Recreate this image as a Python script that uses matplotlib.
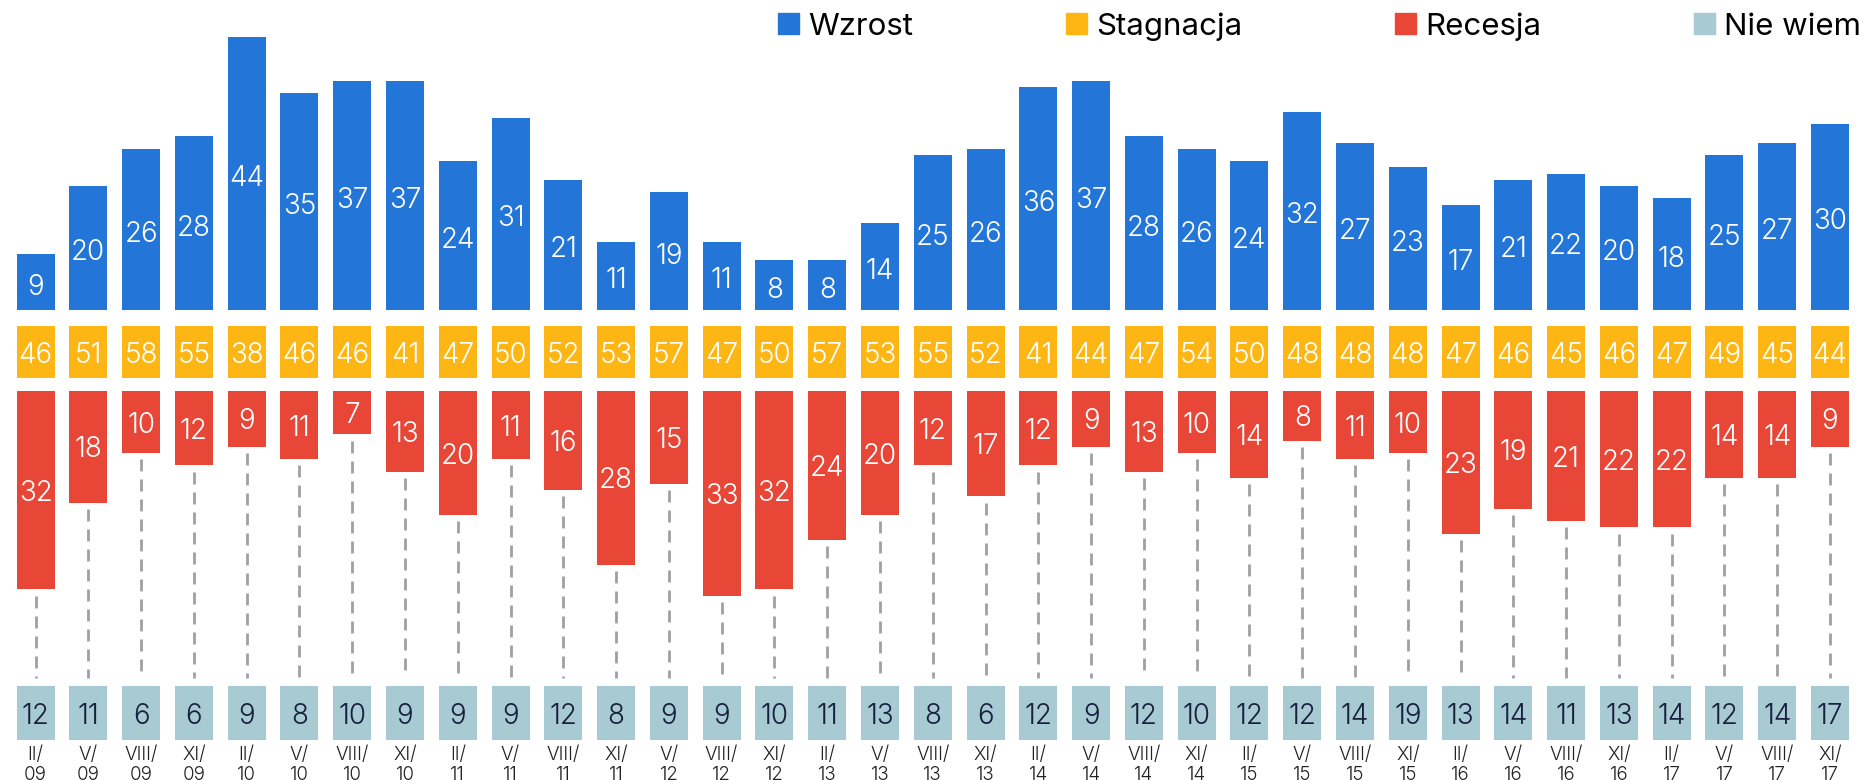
import matplotlib.pyplot as plt
from matplotlib.patches import Patch

periods = ["II/\n09", "V/\n09", "VIII/\n09", "XI/\n09",
           "II/\n10", "V/\n10", "VIII/\n10", "XI/\n10",
           "II/\n11", "V/\n11", "VIII/\n11", "XI/\n11",
           "V/\n12", "VIII/\n12", "XI/\n12",
           "II/\n13", "V/\n13", "VIII/\n13", "XI/\n13",
           "II/\n14", "V/\n14", "VIII/\n14", "XI/\n14",
           "II/\n15", "V/\n15", "VIII/\n15", "XI/\n15",
           "II/\n16", "V/\n16", "VIII/\n16", "XI/\n16",
           "II/\n17", "V/\n17", "VIII/\n17", "XI/\n17"]

wzrost = [9, 20, 26, 28, 44, 35, 37, 37, 24, 31, 21, 11, 19, 11, 8, 8, 14, 25,
          26, 36, 37, 28, 26, 24, 32, 27, 23, 17, 21, 22, 20, 18, 25, 27, 30]
stagnacja = [46, 51, 58, 55, 38, 46, 46, 41, 47, 50, 52, 53, 57, 47, 50, 57, 53, 55,
             52, 41, 44, 47, 54, 50, 48, 48, 48, 47, 46, 45, 46, 47, 49, 45, 44]
recesja = [32, 18, 10, 12, 9, 11, 7, 13, 20, 11, 16, 28, 15, 33, 32, 24, 20, 12,
           17, 12, 9, 13, 10, 14, 8, 11, 10, 23, 19, 21, 22, 22, 14, 14, 9]
nie_wiem = [12, 11, 6, 6, 9, 8, 10, 9, 9, 9, 12, 8, 9, 9, 10, 11, 13, 8,
            6, 12, 9, 12, 10, 12, 12, 14, 19, 13, 14, 11, 13, 14, 12, 14, 17]

BLUE = "#2376d8"
YELLOW = "#feb614"
RED = "#e84637"
TEAL = "#a8cad2"
NAVY = "#17203f"

plt.rcParams["font.family"] = ["Inter", "DejaVu Sans"]

# layout in value units (1 unit ~ 6.2 px)
YEL_TOP, YEL_BOT = -2.6, -11.0
RED_TOP = -13.06
DASH_END = -59.35
TEAL_TOP, TEAL_BOT = -60.65, -69.35
LABEL_Y = -70.3
W = 0.72
FS = 20
WT = 300

fig = plt.figure(figsize=(18.67, 7.8), dpi=100)
ax = fig.add_axes([0, 0, 1, 1])
ax.set_xlim(-0.673, 34.70)
ax.set_ylim(-75.8, 50.0)
ax.axis("off")

x = list(range(len(periods)))

ax.bar(x, wzrost, width=W, bottom=0, color=BLUE)
ax.bar(x, [YEL_TOP - YEL_BOT] * len(x), width=W, bottom=YEL_BOT, color=YELLOW)
ax.bar(x, [-v for v in recesja], width=W, bottom=RED_TOP, color=RED)
ax.bar(x, [TEAL_TOP - TEAL_BOT] * len(x), width=W, bottom=TEAL_BOT, color=TEAL)

for i in x:
    ax.plot([i, i], [RED_TOP - recesja[i] - 1.0, DASH_END], color="#a0a0a0",
            lw=2.0, linestyle=(0, (4.3, 2.9)), zorder=0)
    ax.text(i, wzrost[i] / 2 - 0.8, str(wzrost[i]), color="white", fontsize=FS,
            fontweight=WT, ha="center", va="center")
    ax.text(i, (YEL_TOP + YEL_BOT) / 2 - 0.5, str(stagnacja[i]), color="white",
            fontsize=FS, fontweight=WT, ha="center", va="center")
    ax.text(i, RED_TOP - recesja[i] / 2 - 0.5, str(recesja[i]), color="white",
            fontsize=FS, fontweight=WT, ha="center", va="center")
    ax.text(i, (TEAL_TOP + TEAL_BOT) / 2 - 0.5, str(nie_wiem[i]), color=NAVY,
            fontsize=FS, fontweight=WT, ha="center", va="center")
    # second line is clipped by the bottom edge, as in the original
    ax.text(i, LABEL_Y, periods[i], color="#222222", fontsize=13.5,
            fontweight=WT, ha="center", va="top", linespacing=1.15)

handles = [Patch(color=BLUE, label="Wzrost"),
           Patch(color=YELLOW, label="Stagnacja"),
           Patch(color=RED, label="Recesja"),
           Patch(color=TEAL, label="Nie wiem")]
fig.legend(handles=handles, ncol=4, loc="upper right",
           bbox_to_anchor=(1864 / 1867, 1 - 9 / 780), frameon=False,
           prop={"size": 22.5}, handlelength=0.65,
           handleheight=0.65, handletextpad=0.3, columnspacing=4.9,
           borderpad=0.1, borderaxespad=0.0)

fig.savefig("out.png", dpi=100)
